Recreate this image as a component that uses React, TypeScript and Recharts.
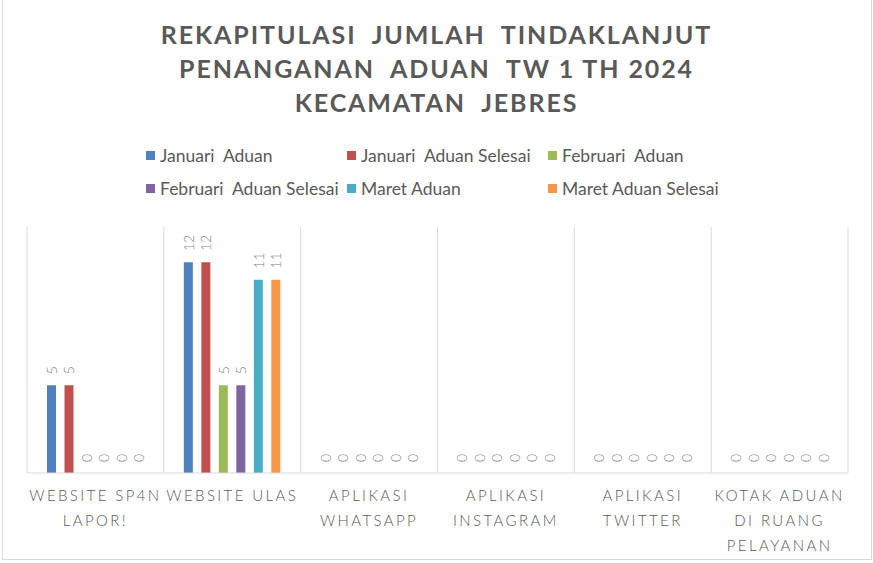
import React from "react";
import { BarChart, Bar, XAxis, YAxis, CartesianGrid, LabelList } from "recharts";

const categories = [
  "Website SP4N Lapor!",
  "Website ULAS",
  "Aplikasi WhatsApp",
  "Aplikasi Instagram",
  "Aplikasi Twitter",
  "Kotak Aduan di Ruang Pelayanan",
];
const tickLines = [
  ["WEBSITE SP4N", "LAPOR!"],
  ["WEBSITE ULAS"],
  ["APLIKASI", "WHATSAPP"],
  ["APLIKASI", "INSTAGRAM"],
  ["APLIKASI", "TWITTER"],
  ["KOTAK ADUAN", "DI RUANG", "PELAYANAN"],
];
const januariAduan = [5, 12, 0, 0, 0, 0];
const januariAduanSelesai = [5, 12, 0, 0, 0, 0];
const februariAduan = [0, 5, 0, 0, 0, 0];
const februariAduanSelesai = [0, 5, 0, 0, 0, 0];
const maretAduan = [0, 11, 0, 0, 0, 0];
const maretAduanSelesai = [0, 11, 0, 0, 0, 0];
const seriesNames = [
  "Januari  Aduan",
  "Januari  Aduan Selesai",
  "Februari  Aduan",
  "Februari  Aduan Selesai",
  "Maret Aduan",
  "Maret Aduan Selesai",
];
const titleLines = [
  "REKAPITULASI  JUMLAH  TINDAKLANJUT",
  "PENANGANAN  ADUAN  TW 1 TH 2024",
  "KECAMATAN  JEBRES",
];

const seriesValues = [
  januariAduan,
  januariAduanSelesai,
  februariAduan,
  februariAduanSelesai,
  maretAduan,
  maretAduanSelesai,
];
const colors = ["#4F81BD", "#C0504D", "#9BBB59", "#8064A2", "#4BACC6", "#F79646"];
const keys = ["s0", "s1", "s2", "s3", "s4", "s5"];

const data = categories.map((c, i) => {
  const row: any = { name: c, idx: i };
  keys.forEach((k, j) => (row[k] = seriesValues[j][i]));
  return row;
});

const FONT = "Lato, 'Open Sans', sans-serif";
const GRAY = "#595959";

const CategoryTick = (props: any) => {
  const { x, y, index } = props;
  const lines = tickLines[index] || [];
  return (
    <g>
      {lines.map((l, i) => (
        <text
          key={i}
          x={x}
          y={y + 14 + i * 25}
          textAnchor="middle"
          dominantBaseline="central"
          fill={GRAY}
          fontSize={15}
          fontWeight={300}
          fontFamily={FONT}
          letterSpacing={2.4}
        >
          {l}
        </text>
      ))}
    </g>
  );
};

const ValueLabel = (props: any) => {
  const { x, y, width, value } = props;
  const cx = x + width / 2;
  const ty = y - 11;
  return (
    <text
      x={cx}
      y={ty}
      transform={`rotate(-90, ${cx}, ${ty})`}
      textAnchor="start"
      dominantBaseline="central"
      fill="#7f7f7f"
      fontSize={14}
      fontWeight={300}
      fontFamily={FONT}
    >
      {value}
    </text>
  );
};

export default function App() {
  return (
    <div
      style={{
        position: "absolute",
        left: 0,
        top: 0,
        width: 873,
        height: 563,
        background: "#fff",
        fontFamily: FONT,
      }}
    >
      <div
        style={{
          position: "absolute",
          left: 2,
          top: -1,
          width: 868,
          height: 559,
          border: "1px solid #d9d9d9",
        }}
      />
      <div
        style={{
          position: "absolute",
          left: 0,
          top: 17,
          width: 873,
          textAlign: "center",
          color: GRAY,
          fontWeight: "bold",
          fontSize: 25,
          lineHeight: "34px",
          letterSpacing: 1.9,
          whiteSpace: "pre",
        }}
      >
        {titleLines.map((t, i) => (
          <div key={i}>{t}</div>
        ))}
      </div>
      <div style={{ position: "absolute", left: 146, top: 143, width: 620 }}>
        {seriesNames.map((n, i) => (
          <div
            key={i}
            style={{
              position: "absolute",
              left: (i % 3) * 201,
              top: Math.floor(i / 3) * 33,
              display: "flex",
              alignItems: "center",
              height: 24,
              whiteSpace: "pre",
              color: GRAY,
              fontSize: 17.5,
            }}
          >
            <span
              style={{
                display: "inline-block",
                width: 9,
                height: 9,
                background: colors[i],
                marginRight: 5,
              }}
            />
            {n}
          </div>
        ))}
      </div>
      <div style={{ position: "absolute", left: 0, top: 0 }}>
        <BarChart
          width={873}
          height={563}
          data={data}
          margin={{ top: 227, right: 25, bottom: 0, left: 27 }}
          barSize={9}
          barGap={8.5}
        >
          <CartesianGrid
            horizontal={false}
            stroke="#d9d9d9"
            verticalCoordinatesGenerator={({ offset }: any) =>
              categories
                .map((_, i) => offset.left + (i * offset.width) / categories.length)
                .concat([offset.left + offset.width])
            }
          />
          <XAxis
            dataKey="name"
            height={90}
            axisLine={{ stroke: "#d9d9d9" }}
            tickLine={false}
            interval={0}
            tick={<CategoryTick />}
          />
          <YAxis hide domain={[0, 14]} />
          {keys.map((k, i) => (
            <Bar
              key={k}
              dataKey={k}
              name={seriesNames[i]}
              fill={colors[i]}
              minPointSize={0.01}
              isAnimationActive={false}
            >
              <LabelList dataKey={k} content={<ValueLabel />} />
            </Bar>
          ))}
        </BarChart>
      </div>
    </div>
  );
}
